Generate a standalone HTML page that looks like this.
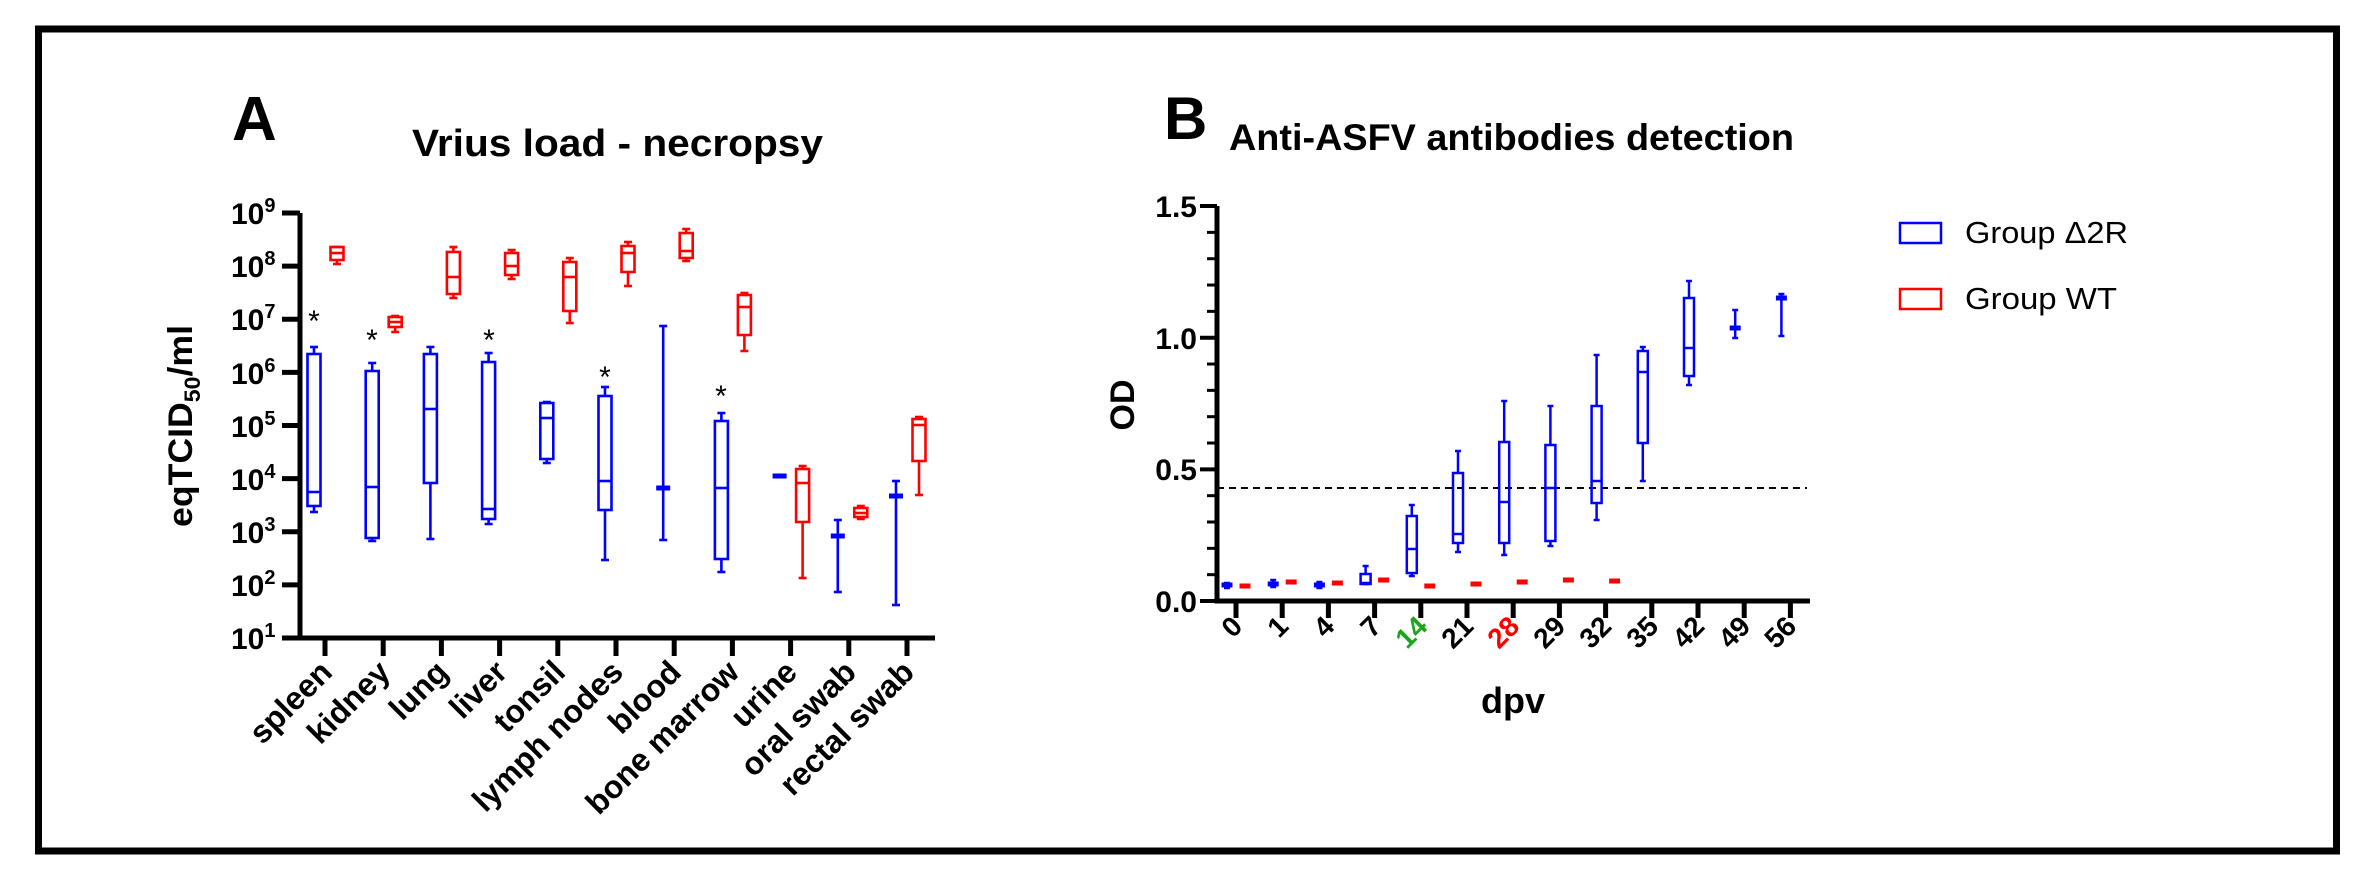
<!DOCTYPE html>
<html><head><meta charset="utf-8"><style>
html,body{margin:0;padding:0;background:#fff;}
svg{display:block;font-family:"Liberation Sans",Arial,sans-serif;}
</style></head><body>
<svg id="s" width="2369" height="876" viewBox="0 0 2369 876" xmlns="http://www.w3.org/2000/svg">
<rect x="38.5" y="29" width="2298" height="822" fill="none" stroke="#000" stroke-width="7"/>

<!-- Panel A -->
<text x="232" y="140" font-size="62" font-weight="bold">A</text>
<text x="412" y="156" font-size="38" font-weight="bold" textLength="411" lengthAdjust="spacingAndGlyphs">Vrius load - necropsy</text>
<text transform="translate(192,426) rotate(-90)" text-anchor="middle" font-size="34" font-weight="bold" textLength="202" lengthAdjust="spacingAndGlyphs">eqTCID<tspan font-size="22" dy="8">50</tspan><tspan dy="-8">/ml</tspan></text>
<g font-size="30" font-weight="bold">
<text x="231" y="224">10<tspan dy="-12" font-size="20">9</tspan></text>
<text x="231" y="277">10<tspan dy="-12" font-size="20">8</tspan></text>
<text x="231" y="330">10<tspan dy="-12" font-size="20">7</tspan></text>
<text x="231" y="384">10<tspan dy="-12" font-size="20">6</tspan></text>
<text x="231" y="437">10<tspan dy="-12" font-size="20">5</tspan></text>
<text x="231" y="490">10<tspan dy="-12" font-size="20">4</tspan></text>
<text x="231" y="543">10<tspan dy="-12" font-size="20">3</tspan></text>
<text x="231" y="596">10<tspan dy="-12" font-size="20">2</tspan></text>
<text x="231" y="649">10<tspan dy="-12" font-size="20">1</tspan></text>
</g>
<g id="axA" stroke="#000" stroke-width="5" fill="none"></g>
<g font-size="32" font-weight="bold" text-anchor="end">
<text transform="translate(334,674) rotate(-45)">spleen</text>
<text transform="translate(392,674) rotate(-45)">kidney</text>
<text transform="translate(450,674) rotate(-45)">lung</text>
<text transform="translate(509,674) rotate(-45)">liver</text>
<text transform="translate(567,674) rotate(-45)">tonsil</text>
<text transform="translate(625,674) rotate(-45)">lymph nodes</text>
<text transform="translate(683,674) rotate(-45)">blood</text>
<text transform="translate(741,674) rotate(-45)">bone marrow</text>
<text transform="translate(799,674) rotate(-45)">urine</text>
<text transform="translate(858,674) rotate(-45)">oral swab</text>
<text transform="translate(916,674) rotate(-45)">rectal swab</text>
</g>
<g font-size="30" text-anchor="middle">
<text x="314" y="331">*</text>
<text x="372" y="350">*</text>
<text x="489" y="350">*</text>
<text x="605" y="387">*</text>
<text x="721" y="406">*</text>
</g>
<g id="boxA"></g>

<!-- Panel B -->
<text x="1164" y="139" font-size="60" font-weight="bold">B</text>
<text x="1229" y="150" font-size="37" font-weight="bold" textLength="565" lengthAdjust="spacingAndGlyphs">Anti-ASFV antibodies detection</text>
<text transform="translate(1134,405) rotate(-90)" text-anchor="middle" font-size="34" font-weight="bold">OD</text>
<text x="1513" y="713" text-anchor="middle" font-size="36" font-weight="bold">dpv</text>
<g font-size="30" font-weight="bold" text-anchor="end">
<text x="1197" y="217">1.5</text>
<text x="1197" y="349">1.0</text>
<text x="1197" y="480">0.5</text>
<text x="1197" y="612">0.0</text>
</g>
<g font-size="28" font-weight="bold" text-anchor="end">
<text transform="translate(1244,628) rotate(-45)">0</text>
<text transform="translate(1290,628) rotate(-45)">1</text>
<text transform="translate(1336,628) rotate(-45)">4</text>
<text transform="translate(1383,628) rotate(-45)">7</text>
<text transform="translate(1429,628) rotate(-45)" fill="#1aa51a">14</text>
<text transform="translate(1475,628) rotate(-45)">21</text>
<text transform="translate(1521,628) rotate(-45)" fill="#ff0000">28</text>
<text transform="translate(1567,628) rotate(-45)">29</text>
<text transform="translate(1613,628) rotate(-45)">32</text>
<text transform="translate(1660,628) rotate(-45)">35</text>
<text transform="translate(1706,628) rotate(-45)">42</text>
<text transform="translate(1752,628) rotate(-45)">49</text>
<text transform="translate(1798,628) rotate(-45)">56</text>
</g>
<line x1="1217" y1="488" x2="1807" y2="488" stroke="#000" stroke-width="2" stroke-dasharray="7,5"/>
<g id="axB" stroke="#000" fill="none"></g>
<g id="boxB"></g>

<!-- Legend -->
<rect x="1900" y="223" width="41" height="20" fill="none" stroke="#0000ff" stroke-width="2.5"/>
<rect x="1900" y="289" width="41" height="20" fill="none" stroke="#ff0000" stroke-width="2.5"/>
<text x="1965" y="243" font-size="31" textLength="163" lengthAdjust="spacingAndGlyphs">Group Δ2R</text>
<text x="1965" y="309" font-size="31" textLength="152" lengthAdjust="spacingAndGlyphs">Group WT</text>
</svg>
<script>
var NS="http://www.w3.org/2000/svg";
function el(p,t,a){var e=document.createElementNS(NS,t);for(var k in a)e.setAttribute(k,a[k]);p.appendChild(e);return e;}
var axA=document.getElementById('axA');
el(axA,'polyline',{points:"300,213 300,638 935,638"});
for(var i=0;i<9;i++){var y=213+i*53.125;el(axA,'line',{x1:282,y1:y,x2:300,y2:y});}
for(var i=0;i<11;i++){var x=325+58.2*i;el(axA,'line',{x1:x,y1:638,x2:x,y2:656});}
function box(g,cx,d,c,hw,cw,sw){
 var wt=d[0],bt=d[1],md=d[2],bb=d[3],wb=d[4];
 el(g,'line',{x1:cx,y1:wt,x2:cx,y2:bt,stroke:c,'stroke-width':sw});
 el(g,'line',{x1:cx,y1:bb,x2:cx,y2:wb,stroke:c,'stroke-width':sw});
 el(g,'line',{x1:cx-cw,y1:wt,x2:cx+cw,y2:wt,stroke:c,'stroke-width':sw});
 el(g,'line',{x1:cx-cw,y1:wb,x2:cx+cw,y2:wb,stroke:c,'stroke-width':sw});
 el(g,'rect',{x:cx-hw,y:bt,width:2*hw,height:Math.max(bb-bt,1),fill:'none',stroke:c,'stroke-width':sw});
 el(g,'line',{x1:cx-hw,y1:md,x2:cx+hw,y2:md,stroke:c,'stroke-width':sw});
}
function bar(g,cx,t,m,b,c,hw,cw,sw){
 if(t!=null){el(g,'line',{x1:cx,y1:t,x2:cx,y2:b,stroke:c,'stroke-width':sw});
 el(g,'line',{x1:cx-cw,y1:t,x2:cx+cw,y2:t,stroke:c,'stroke-width':sw});
 el(g,'line',{x1:cx-cw,y1:b,x2:cx+cw,y2:b,stroke:c,'stroke-width':sw});}
 el(g,'rect',{x:cx-hw,y:m-2.5,width:2*hw,height:5,fill:c});
}
var gA=document.getElementById('boxA');
var B='#0000ff',R='#ff0000';
var blueA={0:[347,354,492,506,512],1:[363,371,487,538,541],2:[347,354,409,483,539],3:[353,362,509,519,524],4:[402,403,418,459,463],5:[387,396,481,510,560],7:[413,421,488,559,572]};
for(var k in blueA){box(gA,325+58.2*k-11,blueA[k],B,6.5,4,2.6);}
bar(gA,325+58.2*6-11,326,488,540,B,7,4,2.6);
bar(gA,325+58.2*8-11,null,476,null,B,7,4,2.6);
bar(gA,325+58.2*9-11,520,536,592,B,7,4,2.6);
bar(gA,325+58.2*10-11,481,496,605,B,7,4,2.6);
var redA=[[247,247,253,260,264],[316,317,322,327,332],[247,252,277,294,298],[250,253,266,275,279],[258,262,277,311,323],[242,246,253,272,286],[229,233,251,258,261],[293,295,307,335,351],[466,469,483,522,578],[506,508,513,517,519],[417,419,425,461,495]];
redA.forEach(function(d,i){box(gA,325+58.2*i+12,d,R,6.5,4,2.6);});

var axB=document.getElementById('axB');
el(axB,'polyline',{points:"1217,206 1217,601 1810,601",'stroke-width':5});
for(var i=0;i<=15;i++){var y=601-i*26.33;var maj=(i%5==0);el(axB,'line',{x1:maj?1200:1207,y1:y,x2:1217,y2:y,'stroke-width':maj?4:3});}
for(var i=0;i<13;i++){var x=1236+46.2*i;el(axB,'line',{x1:x,y1:601,x2:x,y2:618,'stroke-width':5});}
var gB=document.getElementById('boxB');
var blueB=[[583,584,585,587,588],[580,582,584,586,587],[582,583,585,587,588],[566,574,583,584,584],[505,516,549,573,576],[451,473,534,543,552],[401,442,502,543,555],[406,445,488,541,546],[355,406,481,503,520],[347,351,372,443,481],[281,298,348,376,385]];
blueB.forEach(function(d,i){var cx=1236+46.2*i-9;
 if(i<3){bar(gB,cx,d[0],d[2],d[4],B,5.5,3,2.5);} else box(gB,cx,d,B,5,3,2.5);});
bar(gB,1236+46.2*11-9,310,328,338,B,5.5,3,2.5);
bar(gB,1236+46.2*12-9,294,298,336,B,5.5,3,2.5);
[586,582,583,580,586,584,582,580,581].forEach(function(y,i){var cx=1236+46.2*i+9;
 el(gB,'rect',{x:cx-5.5,y:y-2.5,width:11,height:5,fill:R});});
</script>
</body></html>
